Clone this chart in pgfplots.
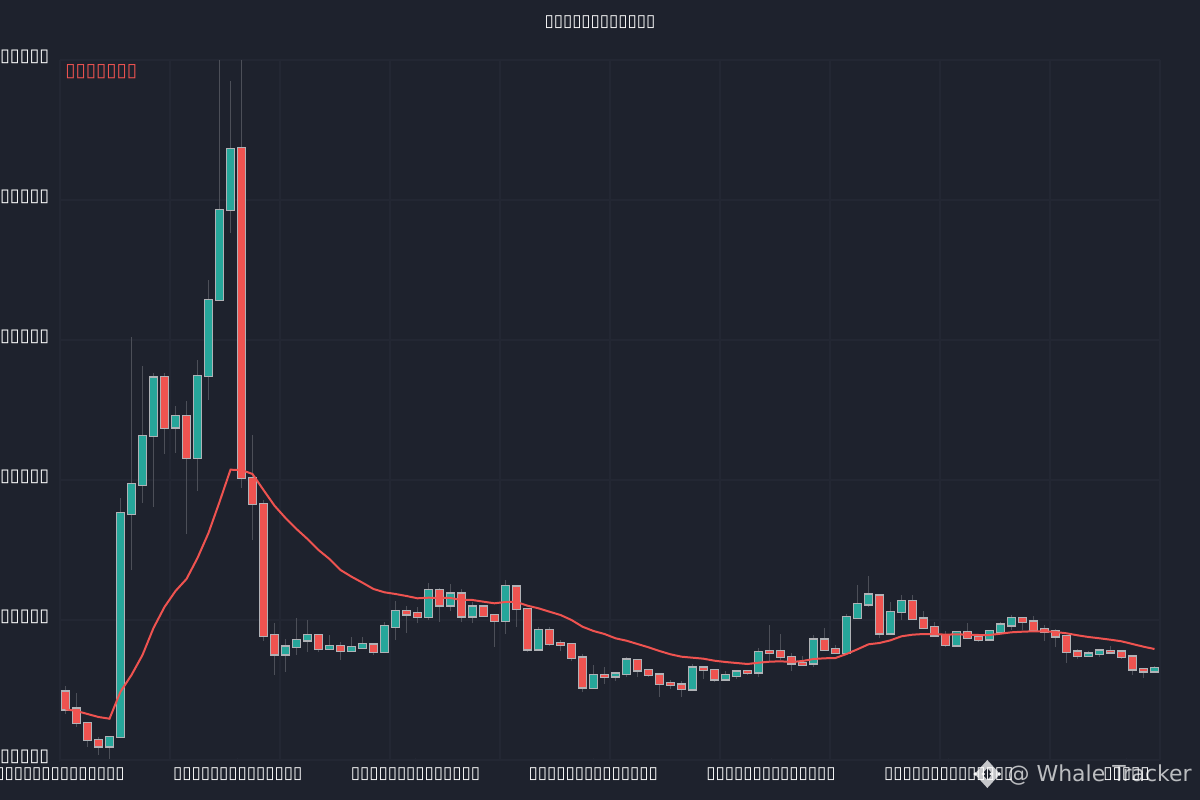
\documentclass[border=0pt]{standalone}
\usepackage{pgfplots}
\pgfplotsset{compat=1.18}
\usepackage{pgfplotstable}
\usepackage{fontspec}
\setmainfont{DejaVu Sans}
\definecolor{bgc}{HTML}{1E222D}
\definecolor{gridc}{HTML}{232733}
\definecolor{upc}{HTML}{26A69A}
\definecolor{dnc}{HTML}{EF5350}
\definecolor{wick}{HTML}{4C4F58}
\newcommand{\tickl}{▯▯▯▯▯▯▯▯▯▯▯▯▯▯}
% columns: x, body bottom, body top, wick low, wick high
\pgfplotstableread{
x bot top low high
0 50.7 68.3 46 74
1 37.3 51.3 33 67.3
2 20 37 13.3 37
3 13.7 20 5.3 23.3
9 332.3 383 306 387.3
11 302 344 226 359
16 282.3 612 272 700
17 256 281.7 220 325
18 124.5 256 119.3 260
19 105.7 124.7 85 137.3
23 111.3 125 108.3 125
25 109 114 100 118.3
28 108.3 115.3 105 115.3
31 145.7 148.7 127 154
32 143.3 146.7 136.7 153.3
34 154.7 169.7 138.3 172
36 143.7 166.3 138.3 170.7
38 144.3 153.3 144.3 154
39 139 144.7 113.3 144.7
41 151 173.3 133.3 175
42 110.7 151 108.3 151
44 116 130 114 133
45 115.3 117 109 120
46 102 116 99.3 116
47 72.7 102.3 68.3 106
49 83.3 84.7 76 93.3
52 89.7 100 82.7 100
53 85.3 89.7 83.3 89.7
54 76.3 85.3 63.3 86
55 75.3 77 71.3 80
56 71 75.3 63.3 78.7
58 90 92.3 80.7 94
59 80.7 90 78.3 90
62 87 88.7 85 88.7
64 107.3 109 99.3 135
65 103 108.7 100 126
66 96.7 102.7 89 106.7
67 95.3 96.7 95.3 104
69 110.3 120.3 109 132.3
70 107 110.7 105.7 115
74 126.7 164.3 121.7 164.3
77 141.3 159 141.3 165
78 132.3 141.3 132.3 149
79 124.7 133 124.7 138.3
80 115 124.7 112.7 129.3
82 122.3 127.7 122.3 137.3
83 120.3 122.7 118.3 123
87 138 141.7 130 141.7
88 130.3 138.3 130.3 144
89 128.3 130.7 119.3 135
90 123.7 128.3 112.7 131
91 108.3 124 97.3 124
92 104 108.3 101.3 110.7
95 107.7 109 107.7 114
96 103 108.3 101.3 110
97 90.7 103.3 85 103.3
98 88.7 90.7 82.3 91.3
}\downtable
\pgfplotstableread{
x bot top low high
4 13.7 22.7 1.3 23
5 23 247 22 262
6 246 276 190 423
7 275 324 257 394
8 324 382.3 253.3 387.3
10 332.7 344 307.3 354.3
12 302 384 269.3 400
13 384 460 360 480
14 460 550 460 700
15 550 611 527 679
20 105.7 113.3 88.3 121
21 113.3 119.7 105 142.3
22 119.7 125 108.3 140
24 111.3 114 110 125
26 109 113 108.3 123
27 112.3 115.7 112 123.3
29 108 133.7 107 138.3
30 133 148.7 120 159.3
33 143.3 169.7 140 176.7
35 154.7 166.3 149 176
37 143.7 153.3 137 158.3
40 139 173.7 126 180
43 110.7 130 110 132.7
48 72.3 84.7 72.3 95
50 83.7 86.3 79 86.7
51 86.3 100.3 82.7 103.3
57 70.7 92.3 69.3 96
60 80.7 84.7 80.7 89
61 84.3 88.3 80.7 88.3
63 87.7 107.7 83.3 111.7
68 96.7 120.3 92.7 125
71 107 143 107 145.7
72 142.3 155.7 142.3 175
73 155.7 165.3 153.3 184
75 126.7 148 126.7 158.3
76 148 159 140 165
81 114.7 127.7 114 128
84 120.7 128.7 120.7 129
85 128.3 135.3 126 138.3
86 134.7 141.7 130 145
93 104 106.3 103.3 109
94 106.3 109.3 102.7 110
99 88.7 91.7 88.7 94
}\uptable
\pgfplotstableread{
x y
0 50.7
1 49
2 46
3 43
4 41.3
5 68.3
6 85
7 105
8 132
9 153
10 169
11 181
12 202
13 227
14 258
15 290.3
16 290
17 286
18 270
19 254.3
20 242
21 231
22 221
23 210
24 201
25 190
26 183.3
27 177.3
28 171
29 167.7
30 166
31 164
32 161.7
33 162.3
34 162
35 162
36 160
37 160
38 158.3
39 156.7
40 158
41 158
42 154.3
43 151.7
44 148.3
45 145
46 140
47 133.3
48 129
49 126
50 121.7
51 119.3
52 116
53 112.7
54 109
55 105.7
56 103.3
57 102.3
58 101.3
59 99.3
60 98
61 97
62 96
63 97.3
64 98.3
65 98.7
66 98
67 99
68 101
69 101.7
70 102
71 106
72 110.7
73 115.7
74 117
75 119.7
76 123.7
77 125.3
78 126
79 126
80 125.3
81 125.7
82 125.3
83 125
84 125
85 126.3
86 127.7
87 128.3
88 128.7
89 128.7
90 128
91 126.7
92 124.7
93 123
94 121.7
95 120.3
96 118.7
97 116
98 113.3
99 111
}\matable
\begin{document}
\begin{tikzpicture}[x=1pt,y=1pt]
\path[use as bounding box,fill=bgc] (-45pt,-30pt) rectangle (855pt,570pt);
\begin{axis}[
  at={(0pt,0pt)},anchor=south west,
  scale only axis,width=825pt,height=525pt,
  xmin=-0.5,xmax=99.5,ymin=0,ymax=700,
  axis lines=left,
  axis line style={-,gridc,line width=1.5pt},
  ytick={0,140,280,420,560,700},
  yticklabels={▯▯▯▯▯,▯▯▯▯▯,▯▯▯▯▯,▯▯▯▯▯,▯▯▯▯▯,▯▯▯▯▯},
  xtick={-0.5,15.66,31.82,47.98,64.14,80.3,96.46},
  xticklabels={\tickl,\tickl,\tickl,\tickl,\tickl,\tickl,▯▯▯▯▯},
  minor xtick={9.5,19.5,29.5,39.5,49.5,59.5,69.5,79.5,89.5,99.5},
  xminorgrids,ymajorgrids,
  minor grid style={gridc,line width=1.2pt},
  major grid style={gridc,line width=1.2pt},
  major tick length=3pt,minor tick length=0pt,
  x tick style={gridc,line width=.75pt},
  y tick style={draw=none},
  tick label style={white,font=\fontsize{12.6pt}{14pt}\selectfont},
  xticklabel style={yshift=-1pt},
  yticklabel style={yshift=2.5pt,xshift=-3pt,font=\fontsize{13.4pt}{14pt}\selectfont},
  clip=false,
  error bars/error mark=none,
]
% wicks
\addplot[draw=none,no marks,forget plot,error bars/.cd,y dir=plus,y explicit,
  error bar style={wick,line width=.75pt}]
  table[x=x,y=low,y error plus expr=\thisrow{high}-\thisrow{low}] {\downtable};
\addplot[draw=none,no marks,forget plot,error bars/.cd,y dir=plus,y explicit,
  error bar style={wick,line width=.75pt}]
  table[x=x,y=low,y error plus expr=\thisrow{high}-\thisrow{low}] {\uptable};
% body outlines
\addplot[draw=none,no marks,forget plot,error bars/.cd,y dir=both,y explicit,
  error bar style={white!65!bgc,line width=7.4pt}]
  table[x=x,y=bot,y error plus expr=\thisrow{top}-\thisrow{bot}+1.3,y error minus expr=1.3] {\downtable};
\addplot[draw=none,no marks,forget plot,error bars/.cd,y dir=both,y explicit,
  error bar style={white!65!bgc,line width=7.4pt}]
  table[x=x,y=bot,y error plus expr=\thisrow{top}-\thisrow{bot}+1.3,y error minus expr=1.3] {\uptable};
% bodies
\addplot[draw=none,no marks,forget plot,error bars/.cd,y dir=plus,y explicit,
  error bar style={dnc,line width=5.6pt}]
  table[x=x,y=bot,y error plus expr=\thisrow{top}-\thisrow{bot}] {\downtable};
\addplot[draw=none,no marks,forget plot,error bars/.cd,y dir=plus,y explicit,
  error bar style={upc,line width=5.6pt}]
  table[x=x,y=bot,y error plus expr=\thisrow{top}-\thisrow{bot}] {\uptable};
% moving average
\addplot[dnc,line width=1.5pt,no marks] table[x=x,y=y] {\matable};
\end{axis}
\node[white,font=\fontsize{12.6pt}{14pt}\selectfont] at (405pt,553.5pt) {▯▯▯▯▯▯▯▯▯▯▯▯};
\node[dnc,anchor=west,inner sep=0pt,font=\fontsize{14pt}{16pt}\selectfont] at (3.75pt,516pt) {▯▯▯▯▯▯▯};
% watermark
\begin{scope}[shift={(695.5pt,-10.5pt)},white,opacity=.75]
  \fill[even odd rule] (0,10.5pt) -- (9.5pt,0) -- (0,-10.5pt) -- (-9.5pt,0) -- cycle
     (0,4.5pt) -- (4pt,0) -- (0,-4.5pt) -- (-4pt,0) -- cycle;
\end{scope}
\foreach \dx in {-9,-3,3,9}{\fill[white,opacity=.9] (695.5pt+\dx pt,-10.5pt) circle (1.4pt);}
\node[white,opacity=.7,anchor=east,inner sep=0pt,font=\fontsize{16.5pt}{20pt}\selectfont] at (849pt,-11pt) {@ Whale Tracker};
\end{tikzpicture}
\end{document}
